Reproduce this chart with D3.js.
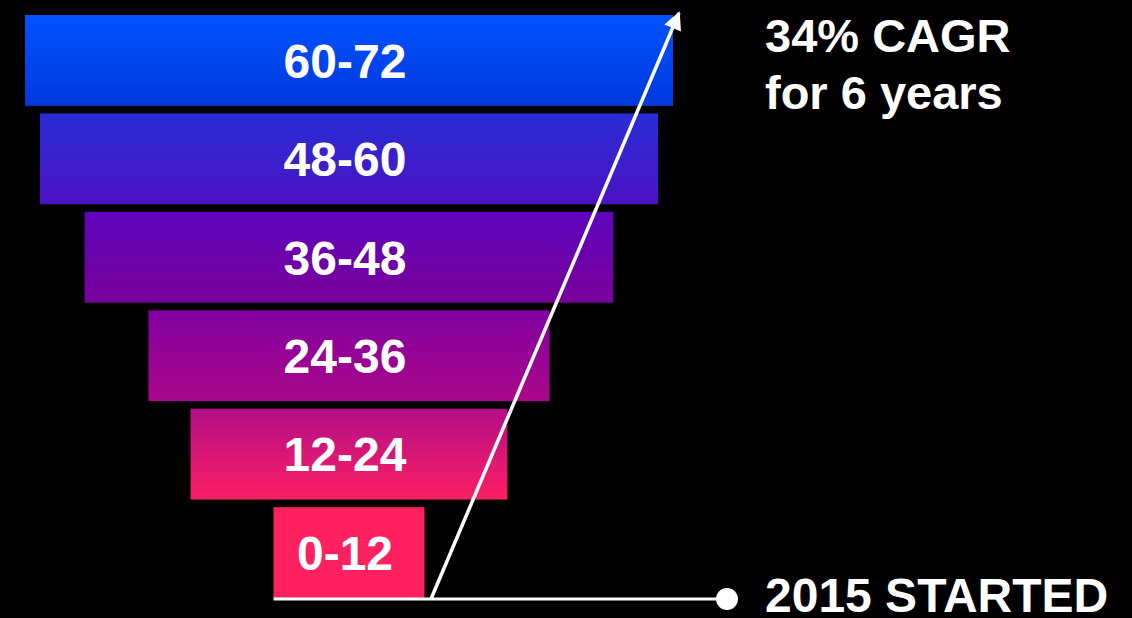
<!DOCTYPE html>
<html>
<head>
<meta charset="utf-8">
<script src="https://cdn.jsdelivr.net/npm/d3@7"></script>
<style>
  html, body { margin: 0; padding: 0; background: #000; }
  svg { display: block; }
</style>
</head>
<body>
<div id="chart"></div>
<script>
const width = 1132;
const height = 618;

// funnel stages, top to bottom (month ranges)
const stages = ['60-72', '48-60', '36-48', '24-36', '12-24', '0-12'];
// relative size of each stage (largest = 100)
const sizes = [100, 95.4, 81.6, 61.9, 48.9, 23.3];
const headline = ['34% CAGR', 'for 6 years'];
const startLabel = '2015 STARTED';

// top / bottom colours of each bar gradient
const topColors = ['#0052ff', '#272dd4', '#5e05bc', '#8100a0', '#b30e88', '#ff2060'];
const bottomColors = ['#0039dc', '#4c12c2', '#79009a', '#aa0789', '#fc1f62', '#ff2060'];

const svg = d3.select('#chart').append('svg')
  .attr('width', width)
  .attr('height', height)
  .style('background', '#000');

const cx = 349;

const y = d3.scaleBand()
  .domain(stages)
  .range([15, 598])
  .paddingInner(0.077);

const w = d3.scaleLinear()
  .domain([0, 100])
  .range([0, 648]);

const defs = svg.append('defs');
stages.forEach((s, i) => {
  const g = defs.append('linearGradient')
    .attr('id', 'grad' + i)
    .attr('x1', 0).attr('y1', 0)
    .attr('x2', 0).attr('y2', 1);
  g.append('stop').attr('offset', '0%').attr('stop-color', topColors[i]);
  g.append('stop').attr('offset', '100%').attr('stop-color', bottomColors[i]);
});

svg.append('g')
  .selectAll('rect')
  .data(stages)
  .join('rect')
  .attr('x', (d, i) => cx - w(sizes[i]) / 2)
  .attr('y', d => y(d))
  .attr('width', (d, i) => w(sizes[i]))
  .attr('height', y.bandwidth())
  .attr('fill', (d, i) => `url(#grad${i})`);

svg.append('g')
  .selectAll('text')
  .data(stages)
  .join('text')
  .attr('x', cx - 4)
  .attr('y', d => y(d) + y.bandwidth() / 2)
  .attr('dy', '0.36em')
  .attr('text-anchor', 'middle')
  .style('font-family', '"Liberation Sans", Arial, sans-serif')
  .style('font-weight', 'bold')
  .style('font-size', '48px')
  .style('fill', '#fff')
  .text(d => d);

// baseline with dot
const baseY = 599;
svg.append('line')
  .attr('x1', cx - w(sizes[sizes.length - 1]) / 2)
  .attr('x2', 727)
  .attr('y1', baseY)
  .attr('y2', baseY)
  .style('stroke', '#fff')
  .style('stroke-width', 3);

svg.append('circle')
  .attr('cx', 727)
  .attr('cy', baseY)
  .attr('r', 11)
  .style('fill', '#fff');

// growth arrow
defs.append('marker')
  .attr('id', 'arrow')
  .attr('viewBox', '0 0 10 10')
  .attr('refX', 9)
  .attr('refY', 5)
  .attr('markerUnits', 'userSpaceOnUse')
  .attr('markerWidth', 30)
  .attr('markerHeight', 18)
  .attr('orient', 'auto')
  .append('path')
  .attr('d', 'M0,0 L10,5 L0,10 Z')
  .style('fill', '#fff');

svg.append('line')
  .attr('x1', 431)
  .attr('y1', baseY)
  .attr('x2', 679)
  .attr('y2', 13)
  .style('stroke', '#fff')
  .style('stroke-width', 3.5)
  .attr('marker-end', 'url(#arrow)');

const txt = svg.append('g')
  .style('font-family', '"Liberation Sans", Arial, sans-serif')
  .style('font-weight', 'bold')
  .style('fill', '#fff');

txt.selectAll('text.head')
  .data(headline)
  .join('text')
  .attr('class', 'head')
  .attr('x', 765)
  .attr('y', (d, i) => 52 + i * 57)
  .style('font-size', '47px')
  .text(d => d);

txt.append('text')
  .attr('x', 765)
  .attr('y', 612)
  .style('font-size', '48px')
  .text(startLabel);
</script>
</body>
</html>
